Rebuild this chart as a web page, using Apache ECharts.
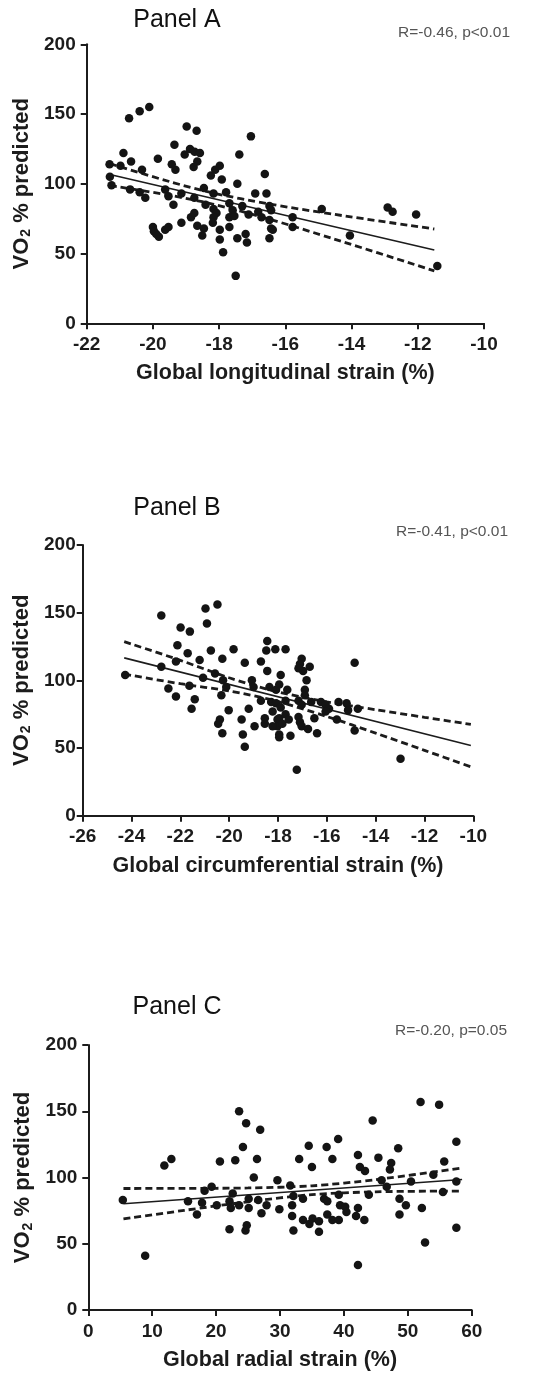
<!DOCTYPE html>
<html>
<head>
<meta charset="utf-8">
<script src="https://cdn.jsdelivr.net/npm/echarts@6/dist/echarts.min.js"></script>
<style>
  html, body { margin: 0; padding: 0; background: #ffffff; }
  #chart { width: 543px; height: 1373px; }
</style>
</head>
<body>
<div id="chart"></div>
<script>
// ---- Panel A: global longitudinal strain (%) vs VO2 % predicted ----
const glsPoints = [
  [-20.72,147],[-20.40,152],[-20.11,155],[-18.98,141],[-18.68,138],[-17.04,134],
  [-19.35,128],[-20.89,122],[-18.88,125],[-18.74,123],[-18.58,122],[-19.04,121],
  [-19.85,118],[-17.39,121],[-20.66,116],[-21.31,114],[-20.98,113],[-18.66,116],
  [-18.77,112],[-19.43,114],[-19.32,110],[-17.98,113],[-18.12,110],[-18.25,106],
  [-20.33,110],[-16.62,107],[-17.92,103],[-17.45,100],[-21.30,105],[-21.25,99],
  [-20.69,96],[-20.40,94],[-20.23,90],[-19.63,96],[-19.53,91],[-19.38,85],
  [-19.14,93],[-18.75,90],[-18.46,97],[-18.17,93],[-17.79,94],[-16.91,93],
  [-16.57,93],[-18.41,85],[-18.17,82],[-18.08,79],[-18.17,76],[-17.69,86],
  [-17.59,81],[-17.69,76],[-17.54,77],[-17.30,84],[-17.11,78],[-16.82,80],
  [-16.72,76],[-16.48,74],[-16.43,68],[-18.85,76],[-18.75,79],[-19.14,72],
  [-18.66,70],[-18.46,68],[-18.51,63],[-18.19,72],[-17.98,67],[-17.98,60],
  [-17.69,69],[-17.45,61],[-17.20,64],[-17.16,58],[-20.00,69],[-19.97,66],
  [-19.82,62],[-19.63,67],[-19.53,69],[-19.90,64],[-17.88,51],[-17.50,34],
  [-16.48,61],[-14.90,82],[-12.91,83],[-12.76,80],[-12.05,78],[-14.05,63],
  [-11.41,41],[-15.78,76],[-15.78,69],[-16.38,67],[-16.48,84],[-16.43,81]
];
const glsFit = [[-21.3,106.6],[-11.5,52.5]];
const glsUpper = [[-21.3,114.4],[-19.5,101.6],[-18.2,93.5],[-16.5,85.6],[-14.5,78.0],[-11.5,67.6]];
const glsLower = [[-21.3,98.8],[-19.5,91.8],[-18.2,85.5],[-16.5,74.8],[-14.5,60.2],[-11.5,37.6]];

// ---- Panel B: global circumferential strain (%) vs VO2 % predicted ----
const gcsPoints = [
  [-22.78,148],[-20.97,153],[-20.48,156],[-20.91,142],[-21.99,139],[-21.61,136],
  [-22.12,126],[-21.70,120],[-20.75,122],[-19.82,123],[-20.28,116],[-18.44,129],
  [-18.48,122],[-18.11,123],[-19.36,113],[-18.70,114],[-22.18,114],[-21.21,115],
  [-22.78,110],[-18.44,107],[-17.89,104],[-24.26,104],[-21.07,102],[-20.58,105],
  [-20.25,100],[-20.12,95],[-19.07,100],[-19.00,95],[-22.49,94],[-22.18,88],
  [-21.63,96],[-21.41,86],[-21.54,79],[-20.32,89],[-20.02,78],[-19.20,79],
  [-20.38,71],[-20.45,68],[-20.28,61],[-19.49,71],[-19.44,60],[-19.36,51],
  [-18.96,66],[-18.54,72],[-18.54,68],[-18.70,85],[-18.28,84],[-18.08,83],
  [-18.02,71],[-18.02,66],[-17.95,60],[-18.22,66],[-18.35,95],[-18.08,93],
  [-17.95,97],[-17.69,123],[-17.03,116],[-17.10,112],[-17.16,109],[-16.70,110],
  [-16.97,107],[-14.86,113],[-16.83,100],[-17.62,93],[-16.90,93],[-16.90,89],
  [-17.69,85],[-17.16,85],[-17.03,82],[-16.64,84],[-16.24,84],[-16.05,82],
  [-15.91,79],[-16.05,77],[-15.52,84],[-15.19,83],[-15.13,78],[-14.73,79],
  [-17.89,80],[-18.22,77],[-17.95,72],[-17.69,75],[-17.82,68],[-17.56,71],
  [-17.16,73],[-17.10,69],[-17.03,66],[-16.51,72],[-16.77,64],[-17.95,58],
  [-17.49,59],[-16.40,61],[-15.59,71],[-14.86,63],[-12.98,42],[-17.23,34]
];
const gcsFit = [[-24.3,116.6],[-10.1,51.8]];
const gcsUpper = [[-24.3,128.6],[-22,114.8],[-20,101.9],[-18.2,92.3],[-16,84.1],[-14,78.3],[-12,72.7],[-10.1,67.5]];
const gcsLower = [[-24.3,104.6],[-22,97.5],[-20,92.1],[-18.2,85.3],[-16,73.3],[-14,61.0],[-12,48.3],[-10.1,36.1]];

// ---- Panel C: global radial strain (%) vs VO2 % predicted ----
const grsPoints = [
  [5.4,83],[8.9,41],[11.9,109],[13.0,114],[20.6,112],[23.0,113],[23.6,150],[24.7,141],
  [26.9,136],[24.2,123],[26.4,114],[25.9,100],[15.6,82],[18.2,90],[19.3,93],[17.8,81],
  [17.0,72],[20.1,79],[22.1,82],[22.6,88],[22.3,77],[23.6,79],[25.1,84],[25.1,77],
  [26.6,83],[27.9,79],[27.1,73],[22.1,61],[24.6,60],[24.8,64],
  [34.5,124],[37.3,123],[39.1,129],[33.0,114],[35.0,108],[38.2,114],[42.2,117],
  [42.5,108],[43.3,105],[44.5,143],[45.4,115],[48.5,122],[47.4,111],[47.2,106],
  [52.0,157],[54.9,155],[57.6,127],[55.7,112],[29.6,98],[31.6,94],[32.1,86],[31.9,79],
  [33.6,84],[36.9,84],[37.4,82],[39.2,87],[39.4,79],[40.2,78],[40.4,74],[29.9,76],
  [31.9,71],[32.1,60],[33.6,68],[34.6,65],[35.1,69],[36.1,67],[37.4,72],[38.2,68],
  [39.2,68],[36.1,59],[41.9,71],[43.2,68],[42.2,77],[43.9,87],[45.9,98],[48.7,84],
  [49.7,79],[48.7,72],[52.2,77],[52.7,51],[50.5,97],[55.5,89],[57.6,97],[57.6,62],
  [42.2,34],[46.7,93],[54.0,102]
];
const grsFit = [[5.5,80.2],[58.5,98.5]];
const grsUpper = [[5.5,91.7],[15,91.8],[25,92.1],[35,93.7],[45,98.4],[58.5,107.2]];
const grsLower = [[5.5,68.7],[15,75.2],[25,81.7],[35,87.1],[45,89.2],[58.5,89.8]];

// Tick ranges
const vo2Ticks = { min: 0, max: 200, interval: 50 };
const glsTicks = { min: -22, max: -10, interval: 2 };
const gcsTicks = { min: -26, max: -10, interval: 2 };
const grsTicks = { min: 0, max: 60, interval: 10 };

// Texts
const panelTitles = ['Panel A', 'Panel B', 'Panel C'];
const statLabels = ['R=-0.46, p<0.01', 'R=-0.41, p<0.01', 'R=-0.20, p=0.05'];
const xNames = ['Global longitudinal strain (%)', 'Global circumferential strain (%)', 'Global radial strain (%)'];

const INK = '#1c1c1c';
const FONT = '"Liberation Sans", Arial, Helvetica, sans-serif';

const grids = [
  { left: 86.7, top: 44.3, width: 397.3, height: 279 },
  { left: 82.7, top: 545,  width: 390.6, height: 270.7 },
  { left: 88.3, top: 1045, width: 383.4, height: 265 }
];
const xTicks = [glsTicks, gcsTicks, grsTicks];
const yLabelMargins = [11, 7, 11];
const yNameGaps = [51, 48, 49];

function axisCommon() {
  return {
    axisLine: { show: true, onZero: false, lineStyle: { color: INK, width: 2 } },
    axisTick: { show: true, inside: false, length: 6, lineStyle: { color: INK, width: 2 } },
    splitLine: { show: false },
    axisLabel: { color: INK, fontFamily: FONT, fontWeight: 'bold', fontSize: 19 }
  };
}

const xAxes = xTicks.map((t, i) => {
  const a = axisCommon();
  return Object.assign(a, {
    type: 'value', gridIndex: i, min: t.min, max: t.max, interval: t.interval,
    name: xNames[i], nameLocation: 'middle', nameGap: 39,
    nameTextStyle: { color: INK, fontFamily: FONT, fontWeight: 'bold', fontSize: 21.5 },
    axisLabel: Object.assign(a.axisLabel, { margin: 12 })
  });
});

const yAxes = grids.map((g, i) => {
  const a = axisCommon();
  return Object.assign(a, {
    type: 'value', gridIndex: i, min: vo2Ticks.min, max: vo2Ticks.max, interval: vo2Ticks.interval,
    name: '{v|VO}{s|2}{v| % predicted}', nameLocation: 'middle', nameRotate: 90, nameGap: yNameGaps[i],
    nameTextStyle: {
      color: INK,
      rich: {
        v: { fontFamily: FONT, fontWeight: 'bold', fontSize: 22, color: INK },
        s: { fontFamily: FONT, fontWeight: 'bold', fontSize: 14, color: INK, padding: [9, 0, 0, 1] }
      }
    },
    axisLabel: Object.assign(a.axisLabel, { margin: yLabelMargins[i] })
  });
});

function panelSeries(i, points, fit, upper, lower) {
  return [
    {
      type: 'line', xAxisIndex: i, yAxisIndex: i, data: upper, symbol: 'none',
      smooth: 0.3, silent: true, z: 2,
      lineStyle: { color: INK, width: 2.8, type: [7, 4] }
    },
    {
      type: 'line', xAxisIndex: i, yAxisIndex: i, data: lower, symbol: 'none',
      smooth: 0.3, silent: true, z: 2,
      lineStyle: { color: INK, width: 2.8, type: [7, 4] }
    },
    {
      type: 'line', xAxisIndex: i, yAxisIndex: i, data: fit, symbol: 'none',
      silent: true, z: 2,
      lineStyle: { color: INK, width: 1.6 }
    },
    {
      type: 'scatter', xAxisIndex: i, yAxisIndex: i, data: points,
      symbol: 'circle', symbolSize: 8.5, silent: true, z: 3,
      itemStyle: { color: '#141414', opacity: 1 }
    }
  ];
}

// Panel headings and correlation statistics
const titleY = [20, 508.5, 1007];
const statY = [32.5, 532, 1030.5];
const statRight = [510, 508, 507];
const graphics = [];
panelTitles.forEach((t, i) => {
  graphics.push({
    type: 'text', x: 177, y: titleY[i], silent: true,
    style: { text: t, fill: '#111', font: '25px ' + FONT, textAlign: 'center', textVerticalAlign: 'middle' }
  });
  graphics.push({
    type: 'text', x: statRight[i], y: statY[i], silent: true,
    style: { text: statLabels[i], fill: '#555', font: '15.5px ' + FONT, textAlign: 'right', textVerticalAlign: 'middle' }
  });
});

const chart = echarts.init(document.getElementById('chart'), null, { renderer: 'canvas' });
chart.setOption({
  animation: false,
  backgroundColor: '#ffffff',
  grid: grids,
  xAxis: xAxes,
  yAxis: yAxes,
  graphic: graphics,
  series: [].concat(
    panelSeries(0, glsPoints, glsFit, glsUpper, glsLower),
    panelSeries(1, gcsPoints, gcsFit, gcsUpper, gcsLower),
    panelSeries(2, grsPoints, grsFit, grsUpper, grsLower)
  )
});
</script>
</body>
</html>
